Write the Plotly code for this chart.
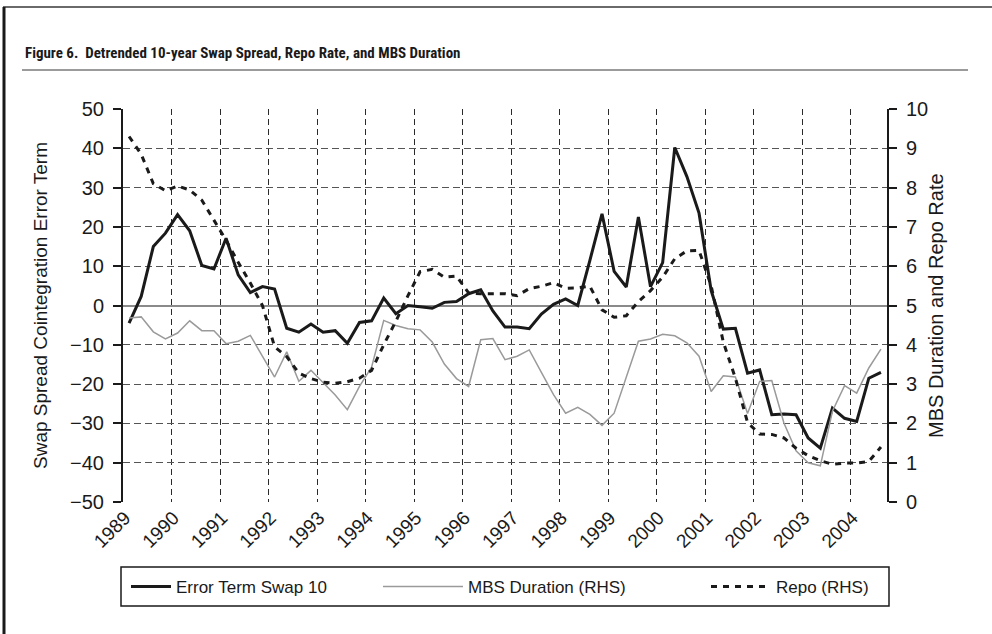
import plotly.graph_objects as go

W, H = 992, 634
L, R, T, B = 123, 887, 109, 502  # plot area in pixels

years = [str(y) for y in range(1989, 2005)]
quarters = [f"{y}Q{q}" for y in range(1989, 2005) for q in range(1, 5)][:63]

error_term = [
    -4.5, 2.3, 15.0, 18.4, 23.1, 19.0, 10.2, 9.3, 17.1, 7.8,
    3.3, 4.8, 4.2, -5.8, -6.8, -4.7, -6.8, -6.4, -9.6, -4.3,
    -3.9, 1.9, -2.1, 0.0, -0.3, -0.7, 0.8, 1.0, 3.0, 4.0,
    -1.4, -5.5, -5.5, -5.9, -2.2, 0.3, 1.7, 0.0, 11.5, 23.3,
    8.7, 4.7, 22.5, 4.8, 10.9, 40.2, 32.8, 23.5, 3.8, -6.0,
    -5.8, -17.2, -16.4, -27.8, -27.6, -27.8, -33.7, -36.3, -26.1, -28.7,
    -29.5, -18.5, -17.0,
]
mbs_duration = [
    4.68, 4.71, 4.33, 4.15, 4.30, 4.61, 4.36, 4.36, 4.03, 4.09,
    4.24, 3.72, 3.18, 3.82, 3.07, 3.35, 3.04, 2.72, 2.35, 2.94,
    3.43, 4.62, 4.49, 4.41, 4.38, 4.07, 3.51, 3.14, 2.94, 4.13,
    4.16, 3.62, 3.71, 3.87, 3.30, 2.73, 2.26, 2.41, 2.23, 1.95,
    2.26, 3.20, 4.09, 4.15, 4.27, 4.23, 4.05, 3.71, 2.81, 3.21,
    3.18, 2.25, 3.07, 3.09, 2.01, 1.30, 1.00, 0.92, 2.31, 2.96,
    2.77, 3.41, 3.89,
]
repo = [
    9.30, 8.85, 8.10, 7.92, 8.04, 7.94, 7.68, 7.18, 6.66, 6.10,
    5.57, 5.00, 3.95, 3.70, 3.28, 3.14, 3.05, 3.02, 3.06, 3.15,
    3.35, 4.00, 4.60, 5.25, 5.86, 5.92, 5.72, 5.75, 5.32, 5.30,
    5.30, 5.30, 5.25, 5.43, 5.49, 5.58, 5.44, 5.45, 5.49, 4.89,
    4.70, 4.74, 5.10, 5.38, 5.72, 6.19, 6.39, 6.40, 5.50, 4.07,
    3.15, 2.02, 1.73, 1.72, 1.63, 1.37, 1.18, 1.05, 0.96, 0.99,
    0.99, 1.03, 1.40,
]

# categories centred between year boundaries
x = [i + 0.5 for i in range(len(quarters))]

FONT = "Liberation Sans, Arial, Helvetica, sans-serif"


def px_x(p):
    return (p - L) / (R - L)


def px_y(p):
    return (B - p) / (B - T)


def leg(px_left, item_w):
    # one legend per series so each entry can sit where the original puts it
    return dict(
        orientation="h", xref="container", yref="container",
        x=px_left / W, xanchor="left", y=1 - 587 / H, yanchor="middle",
        borderwidth=0, bgcolor="rgba(0,0,0,0)", itemwidth=item_w,
        font=dict(size=17, color="#1a1a1a"),
    )


fig = go.Figure()
fig.add_trace(go.Scatter(
    x=x, y=error_term, mode="lines", name="Error Term Swap 10", legend="legend",
    line=dict(color="#1a1a1a", width=3),
))
fig.add_trace(go.Scatter(
    x=x, y=mbs_duration, mode="lines", name="MBS Duration (RHS)", yaxis="y2",
    legend="legend2", line=dict(color="#9a9a9a", width=1.5),
))
fig.add_trace(go.Scatter(
    x=x, y=repo, mode="lines", name="Repo (RHS)", yaxis="y2", legend="legend3",
    line=dict(color="#1a1a1a", width=3, dash="6px,6px"),
))

fig.update_layout(
    width=W, height=H,
    paper_bgcolor="white", plot_bgcolor="white",
    font=dict(family=FONT, size=18, color="#1a1a1a"),
    margin=dict(l=L, r=W - R, t=T, b=H - B, pad=0),
    showlegend=True,
    legend=leg(126, 40),
    legend2=leg(378, 80),
    legend3=leg(706, 60),
    xaxis=dict(
        range=[0, len(quarters)], tickmode="array",
        tickvals=[4 * k for k in range(len(years))], ticktext=years,
        tickangle=-45, ticklabelshift=2, ticklabelstandoff=0,
        showgrid=True, gridcolor="#2a2a2a", gridwidth=1, griddash="6px,4px",
        zeroline=False, showline=False, ticks="",
        tickfont=dict(size=19),
    ),
    yaxis=dict(
        range=[-50, 50], dtick=10, tick0=0,
        showgrid=True, gridcolor="#555555", gridwidth=1.3, griddash="7px,4px",
        zeroline=True, zerolinecolor="#8a8a8a", zerolinewidth=1.8,
        showline=True, linecolor="#1a1a1a", linewidth=2,
        ticks="outside", ticklen=8, tickwidth=1.5, tickcolor="#1a1a1a",
        ticklabelstandoff=5, tickfont=dict(size=20),
    ),
    yaxis2=dict(
        range=[0, 10], dtick=1, tick0=0, overlaying="y", side="right",
        showgrid=False, zeroline=False,
        showline=True, linecolor="#1a1a1a", linewidth=2,
        ticks="outside", ticklen=8, tickwidth=1.5, tickcolor="#1a1a1a",
        ticklabelstandoff=5, tickfont=dict(size=20),
    ),
)

# box round the three legend entries
fig.add_shape(type="rect", xref="paper", yref="paper",
              x0=px_x(121), x1=px_x(889), y0=px_y(567), y1=px_y(606),
              line=dict(color="#1a1a1a", width=1.5), fillcolor="rgba(0,0,0,0)")

# axis titles
fig.add_annotation(
    text="Swap Spread Cointegration Error Term", textangle=-90,
    xref="paper", yref="paper", x=px_x(28), y=0.5,
    showarrow=False, font=dict(size=19),
)
fig.add_annotation(
    text="MBS Duration and Repo Rate", textangle=-90,
    xref="paper", yref="paper", x=px_x(949), y=px_y(306),
    showarrow=False, font=dict(size=20),
)

# figure heading and rule
fig.add_annotation(
    text="<b>Figure 6.  Detrended 10-year Swap Spread, Repo Rate, and MBS Duration</b>",
    xref="paper", yref="paper", x=px_x(23), y=px_y(53),
    xanchor="left", yanchor="middle", showarrow=False,
    font=dict(family="Roboto Condensed, Liberation Sans Narrow, Arial Narrow, Roboto, sans-serif",
              size=15, color="#1a1a1a"),
)
fig.add_shape(type="line", xref="paper", yref="paper",
              x0=px_x(22), x1=px_x(968), y0=px_y(70), y1=px_y(70),
              line=dict(color="#7a7a7a", width=1.5))

# page frame (top and left edges)
fig.add_shape(type="line", xref="paper", yref="paper",
              x0=px_x(3), x1=px_x(992), y0=px_y(7), y1=px_y(7),
              line=dict(color="#6a6a6a", width=2))
fig.add_shape(type="line", xref="paper", yref="paper",
              x0=px_x(4), x1=px_x(4), y0=px_y(7), y1=px_y(634),
              line=dict(color="#1a1a1a", width=3))

# page body has a default margin; drop it so the figure sits at the window origin
fig.write_html("out.html", config={"displayModeBar": False},
               post_script="document.body.style.margin='0';")
